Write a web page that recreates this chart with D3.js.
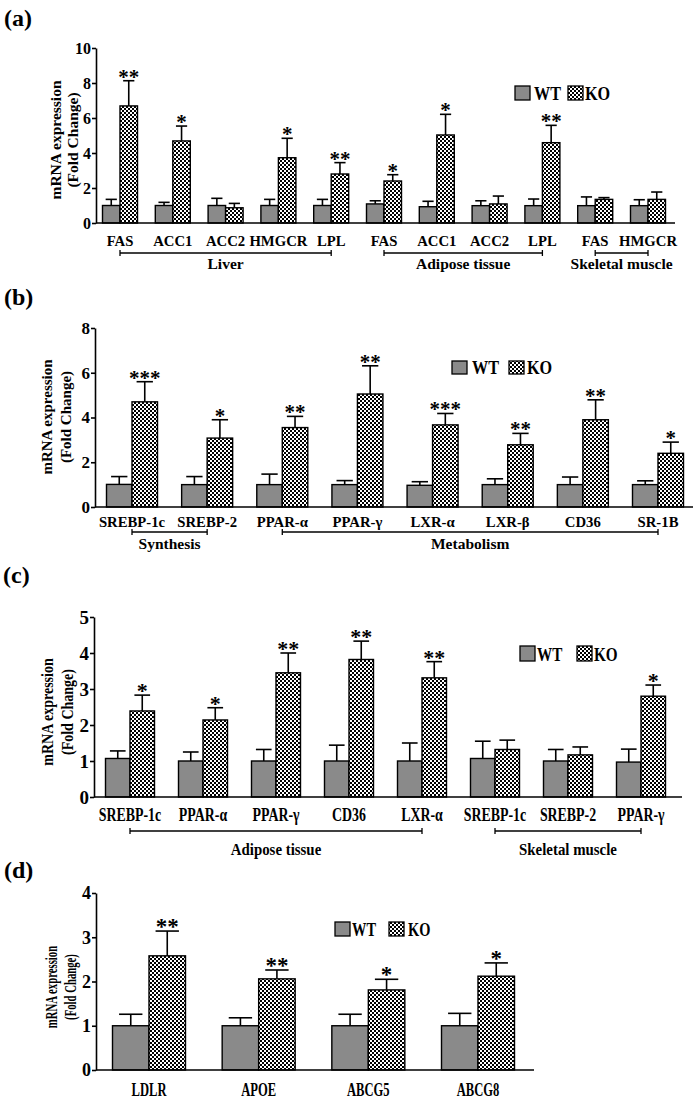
<!DOCTYPE html>
<html lang="en">
<head>
<meta charset="UTF-8">
<title>mRNA expression, WT vs KO</title>
<script src="https://d3js.org/d3.v7.min.js"></script>
<style>
  body { margin: 0; background: #fff; }
  svg { display: block; font-family: "Liberation Serif", "Times New Roman", serif; font-weight: bold; }
</style>
</head>
<body>
<svg width="700" height="1099"></svg>
<script>
// ---- data (means and SEM of fold change) ----
const aGenes = ["FAS", "ACC1", "ACC2", "HMGCR", "LPL", "FAS", "ACC1", "ACC2", "LPL", "FAS", "HMGCR"];
const aWT    = [1.0, 1.0, 1.0, 1.0, 1.0, 1.09, 0.93, 0.99, 0.99, 0.99, 0.99];
const aWTErr = [0.35, 0.18, 0.41, 0.35, 0.35, 0.18, 0.31, 0.28, 0.38, 0.50, 0.34];
const aKO    = [6.69, 4.69, 0.87, 3.73, 2.80, 2.40, 5.03, 1.09, 4.59, 1.35, 1.35];
const aKOErr = [1.44, 0.85, 0.25, 1.11, 0.65, 0.36, 1.18, 0.45, 0.99, 0.10, 0.42];
const aStars = ["**", "*", "", "*", "**", "*", "*", "", "**", "", ""];
const aGroups = [["Liver", 0, 4], ["Adipose tissue", 5, 8], ["Skeletal muscle", 9, 10]];
const aTicks = [0, 2, 4, 6, 8, 10];

const bGenes = ["SREBP-1c", "SREBP-2", "PPAR-α", "PPAR-γ", "LXR-α", "LXR-β", "CD36", "SR-1B"];
const bWT    = [1.01, 1.0, 1.0, 1.0, 0.97, 1.0, 1.0, 1.0];
const bWTErr = [0.35, 0.36, 0.47, 0.18, 0.16, 0.26, 0.34, 0.17];
const bKO    = [4.70, 3.08, 3.55, 5.05, 3.67, 2.78, 3.90, 2.40];
const bKOErr = [0.90, 0.82, 0.50, 1.26, 0.51, 0.51, 0.89, 0.50];
const bStars = ["***", "*", "**", "**", "***", "**", "**", "*"];
const bGroups = [["Synthesis", 0, 1], ["Metabolism", 2, 7]];
const bTicks = [0, 2, 4, 6, 8];

const cGenes = ["SREBP-1c", "PPAR-α", "PPAR-γ", "CD36", "LXR-α", "SREBP-1c", "SREBP-2", "PPAR-γ"];
const cWT    = [1.07, 1.0, 1.0, 1.0, 1.0, 1.07, 1.0, 0.97];
const cWTErr = [0.21, 0.25, 0.32, 0.44, 0.50, 0.48, 0.32, 0.36];
const cKO    = [2.39, 2.14, 3.45, 3.82, 3.31, 1.32, 1.17, 2.80];
const cKOErr = [0.44, 0.34, 0.55, 0.51, 0.45, 0.26, 0.22, 0.31];
const cStars = ["*", "*", "**", "**", "**", "", "", "*"];
const cGroups = [["Adipose tissue", 0, 4], ["Skeletal muscle", 5, 7]];
const cTicks = [0, 1, 2, 3, 4, 5];

const dGenes = ["LDLR", "APOE", "ABCG5", "ABCG8"];
const dWT    = [1.0, 1.0, 1.0, 1.0];
const dWTErr = [0.26, 0.18, 0.26, 0.28];
const dKO    = [2.58, 2.06, 1.81, 2.12];
const dKOErr = [0.56, 0.20, 0.24, 0.30];
const dStars = ["**", "**", "*", "*"];
const dGroups = [];
const dTicks = [0, 1, 2, 3, 4];

const svg = d3.select("svg");
svg.append("rect").attr("width", 700).attr("height", 1099).attr("fill", "#fff");

// checkered fill for KO bars
const pat = svg.append("defs").append("pattern")
  .attr("id", "checker").attr("patternUnits", "userSpaceOnUse")
  .attr("width", 4).attr("height", 4);
pat.append("rect").attr("width", 4).attr("height", 4).attr("fill", "#fff");
pat.append("rect").attr("width", 2).attr("height", 2).attr("fill", "#000");
pat.append("rect").attr("x", 2).attr("y", 2).attr("width", 2).attr("height", 2).attr("fill", "#000");

const WT_FILL = "#8a8a8a";

function txt(g, x, y, s, size, anchor, sx, rot) {
  return g.append("text")
    .attr("transform", `translate(${x},${y}) rotate(${rot || 0}) scale(${sx || 1},1)`)
    .attr("text-anchor", anchor || "middle")
    .style("font-size", size + "px")
    .text(s);
}

function drawPanel(p) {
  const g = svg.append("g");
  const idx = d3.range(p.genes.length);
  const x = d3.scalePoint().domain(idx).range([p.c0, p.c1]);
  const y = d3.scaleLinear().domain([0, d3.max(p.ticks)]).range([p.yBot, p.yTop]);
  const bw = p.barW;

  txt(g, p.tagX, p.tagY, p.tag, 24, "start");

  const series = [
    { vals: p.wt, err: p.wtErr, fill: WT_FILL, dx: -bw, stars: null },
    { vals: p.ko, err: p.koErr, fill: "url(#checker)", dx: 0, stars: p.stars }
  ];
  series.forEach(s => {
    idx.forEach(i => {
      const cx = x(i) + s.dx + bw / 2;
      const top = y(s.vals[i] + s.err[i]);
      g.append("line").attr("x1", cx).attr("x2", cx)
        .attr("y1", y(s.vals[i])).attr("y2", top)
        .attr("stroke", "#000").attr("stroke-width", 1.6);
      g.append("line").attr("x1", cx - bw * 0.32).attr("x2", cx + bw * 0.32)
        .attr("y1", top).attr("y2", top)
        .attr("stroke", "#000").attr("stroke-width", 1.6);
      g.append("rect")
        .attr("x", x(i) + s.dx).attr("y", y(s.vals[i]))
        .attr("width", bw).attr("height", y(0) - y(s.vals[i]))
        .attr("fill", s.fill).attr("stroke", "#000").attr("stroke-width", 1.4);
      if (s.stars && s.stars[i]) {
        txt(g, cx, top + p.starOff, s.stars[i], p.starSize, "middle");
      }
    });
  });

  // axes
  const ax = g.append("g").attr("transform", `translate(${p.x0},0)`)
    .call(d3.axisLeft(y).tickValues(p.ticks).tickSize(4).tickSizeOuter(0).tickPadding(1).tickFormat(d3.format("d")));
  ax.select(".domain").attr("stroke-width", 1.6);
  ax.selectAll(".tick line").attr("stroke-width", 1.6);
  ax.selectAll(".tick text").style("font-size", p.tickSize + "px")
    .style("font-family", "Liberation Serif").style("font-weight", "bold").attr("fill", "#000");
  g.append("line").attr("x1", p.x0).attr("x2", p.x1).attr("y1", y(0)).attr("y2", y(0))
    .attr("stroke", "#000").attr("stroke-width", 1.6);

  // y label
  const cy = p.yl[2];
  txt(g, p.yl[0], cy, "mRNA expression", p.yl[3], "middle", p.yl[4], -90);
  txt(g, p.yl[1], cy, "(Fold Change)", p.yl[3], "middle", p.yl[4], -90);

  // category labels
  idx.forEach(i => txt(g, x(i), p.labelY, p.genes[i], p.labelSize, "middle", p.labelSx));

  // group brackets
  p.groups.forEach(([name, a, b]) => {
    const xa = x(a), xb = x(b), by = p.bracketY;
    g.append("line").attr("x1", xa).attr("x2", xb).attr("y1", by).attr("y2", by)
      .attr("stroke", "#000").attr("stroke-width", 1.3);
    [xa, xb].forEach(xx => g.append("line").attr("x1", xx).attr("x2", xx)
      .attr("y1", by - 3).attr("y2", by + 3).attr("stroke", "#000").attr("stroke-width", 1.3));
    txt(g, (xa + xb) / 2, p.groupY, name, p.groupSize, "middle", p.groupSx);
  });

  // legend
  const L = p.leg;
  g.append("rect").attr("x", L.wt).attr("y", L.y).attr("width", L.w).attr("height", L.h)
    .attr("fill", WT_FILL).attr("stroke", "#000").attr("stroke-width", 1.3);
  txt(g, L.wtText, L.base, "WT", L.size, "start", L.sx);
  g.append("rect").attr("x", L.ko).attr("y", L.y).attr("width", L.w).attr("height", L.h)
    .attr("fill", "url(#checker)").attr("stroke", "#000").attr("stroke-width", 1.3);
  txt(g, L.koText, L.base, "KO", L.size, "start", L.sx);
}

drawPanel({
  tag: "(a)", tagX: 4, tagY: 26,
  genes: aGenes, wt: aWT, wtErr: aWTErr, ko: aKO, koErr: aKOErr, stars: aStars, groups: aGroups, ticks: aTicks,
  x0: 96, x1: 675, c0: 120, c1: 648, barW: 17.5, yTop: 48, yBot: 223, tickSize: 16,
  starSize: 21, starOff: 3,
  labelY: 246, labelSize: 15.5, labelSx: 0.95, bracketY: 253, groupY: 269, groupSize: 15.5, groupSx: 1,
  yl: [61, 78, 140, 15.5, 1],
  leg: { wt: 515, ko: 568, y: 86, w: 15, h: 14, wtText: 534, koText: 585, base: 100, size: 18, sx: 0.9 }
});
drawPanel({
  tag: "(b)", tagX: 4, tagY: 305,
  genes: bGenes, wt: bWT, wtErr: bWTErr, ko: bKO, koErr: bKOErr, stars: bStars, groups: bGroups, ticks: bTicks,
  x0: 95, x1: 693, c0: 132, c1: 658, barW: 25.5, yTop: 328, yBot: 507, tickSize: 17,
  starSize: 21, starOff: 3,
  labelY: 527, labelSize: 15.5, labelSx: 0.95, bracketY: 532, groupY: 549, groupSize: 15.5, groupSx: 1,
  yl: [52, 71, 417, 15, 1],
  leg: { wt: 452, ko: 509, y: 361, w: 15, h: 13, wtText: 472, koText: 527, base: 374, size: 18, sx: 0.9 }
});
drawPanel({
  tag: "(c)", tagX: 3, tagY: 583,
  genes: cGenes, wt: cWT, wtErr: cWTErr, ko: cKO, koErr: cKOErr, stars: cStars, groups: cGroups, ticks: cTicks,
  x0: 94, x1: 682, c0: 130, c1: 641, barW: 24.5, yTop: 617, yBot: 797, tickSize: 19,
  starSize: 22, starOff: 3,
  labelY: 821, labelSize: 18.5, labelSx: 0.75, bracketY: 831, groupY: 855, groupSize: 17.5, groupSx: 0.85,
  yl: [53, 73, 712, 16.5, 0.85],
  leg: { wt: 520, ko: 577, y: 646, w: 15, h: 15, wtText: 537, koText: 594, base: 661, size: 19, sx: 0.8 }
});
drawPanel({
  tag: "(d)", tagX: 4, tagY: 878,
  genes: dGenes, wt: dWT, wtErr: dWTErr, ko: dKO, koErr: dKOErr, stars: dStars, groups: dGroups, ticks: dTicks,
  x0: 96, x1: 534, c0: 149, c1: 478, barW: 36.5, yTop: 893, yBot: 1070, tickSize: 18,
  starSize: 23, starOff: 3,
  labelY: 1096, labelSize: 18, labelSx: 0.7, bracketY: 0, groupY: 0, groupSize: 0, groupSx: 1,
  yl: [57, 76, 987, 16.5, 0.65],
  leg: { wt: 335, ko: 389, y: 922, w: 15, h: 14, wtText: 352, koText: 408, base: 936, size: 18, sx: 0.8 }
});
</script>
</body>
</html>
